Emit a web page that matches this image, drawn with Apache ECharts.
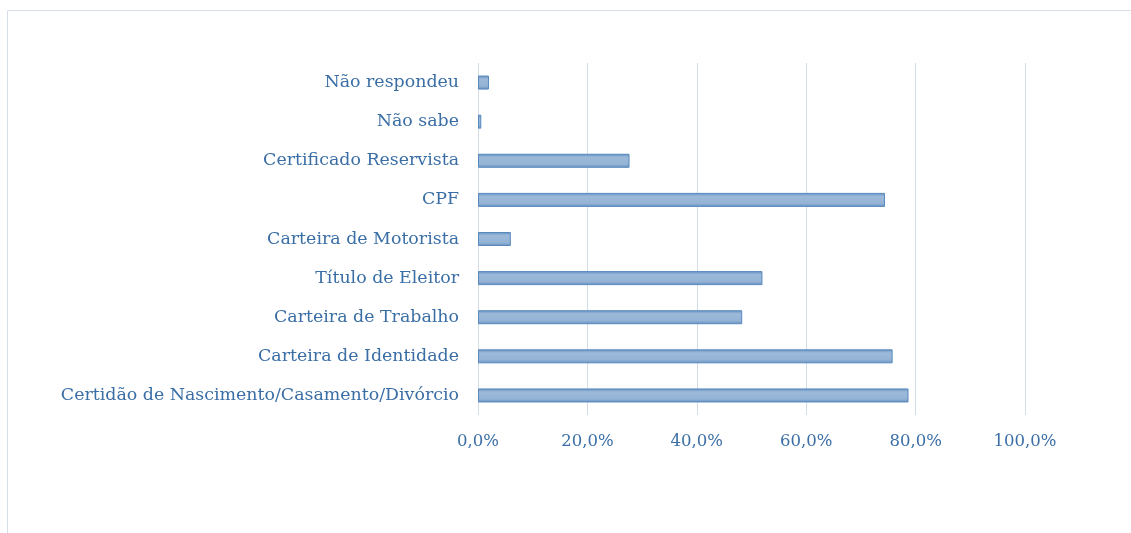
<!DOCTYPE html>
<html>
<head>
<meta charset="utf-8">
<script src="https://cdn.jsdelivr.net/npm/echarts@6/dist/echarts.min.js"></script>
<style>
  html, body { margin: 0; padding: 0; background: #fff; }
  #chart { width: 1131px; height: 533px; }
</style>
</head>
<body>
<div id="chart"></div>
<script>
// categorias (de baixo para cima, como no eixo)
var categories = [
    'Certidão de Nascimento/Casamento/Divórcio',
    'Carteira de Identidade',
    'Carteira de Trabalho',
    'Título de Eleitor',
    'Carteira de Motorista',
    'CPF',
    'Certificado Reservista',
    'Não sabe',
    'Não respondeu'
];
var values = [78.7, 75.8, 48.3, 52.0, 6.0, 74.4, 27.7, 0.6, 2.0];
var tickLabels = ['0,0%', '20,0%', '40,0%', '60,0%', '80,0%', '100,0%'];

var txtColor = '#3a6ea5';
var font = '"DejaVu Serif", "Liberation Serif", serif';

var chart = echarts.init(document.getElementById('chart'));
chart.setOption({
    backgroundColor: '#fff',
    animation: false,
    graphic: [{
        type: 'rect',
        shape: { x: 7.5, y: 10.5, width: 1140, height: 540 },
        style: { fill: 'none', stroke: '#d6dfe8', lineWidth: 1 },
        silent: true
    }],
    grid: { left: 478, right: 106, top: 63, bottom: 118 },
    xAxis: {
        type: 'value',
        min: 0,
        max: 100,
        interval: 20,
        axisLine: { show: false },
        axisTick: { show: false },
        splitLine: { lineStyle: { color: '#d3dde8', width: 1 } },
        axisLabel: {
            color: txtColor,
            fontFamily: font,
            fontSize: 16.5,
            margin: 18,
            formatter: function (v) { return tickLabels[Math.round(v / 20)]; }
        }
    },
    yAxis: {
        type: 'category',
        data: categories,
        axisLine: { show: false },
        axisTick: { show: false },
        splitLine: { show: false },
        axisLabel: {
            color: txtColor,
            fontFamily: font,
            fontSize: 17.4,
            margin: 19
        }
    },
    series: [{
        type: 'bar',
        data: values,
        barWidth: 14,
        itemStyle: {
            color: new echarts.graphic.LinearGradient(0, 0, 0, 1, [
                { offset: 0, color: '#638fc1' },
                { offset: 0.25, color: '#9cb9d9' },
                { offset: 0.75, color: '#95b3d5' },
                { offset: 1, color: '#638fc1' }
            ]),
            borderColor: '#5788be',
            borderWidth: 1
        }
    }]
});
</script>
</body>
</html>
